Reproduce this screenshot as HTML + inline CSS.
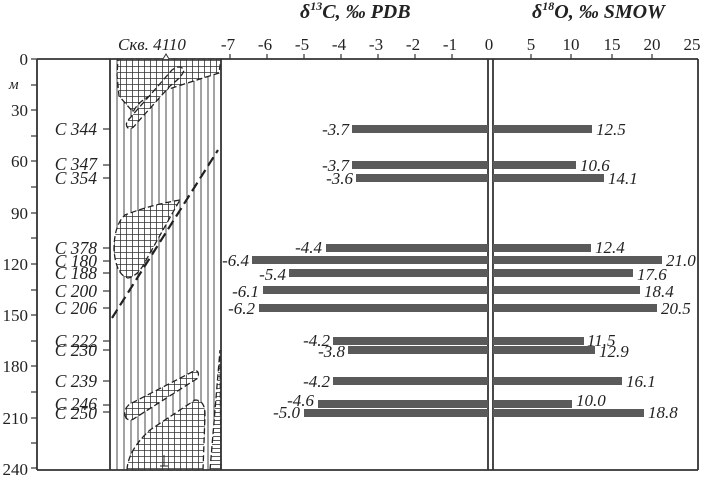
<!DOCTYPE html>
<html><head><meta charset="utf-8"><style>
html,body{margin:0;padding:0;background:#fff;}
svg{display:block;font-family:"Liberation Serif",serif;}
</style></head><body>
<svg width="702" height="485" viewBox="0 0 702 485" xmlns="http://www.w3.org/2000/svg">
<defs>
<pattern id="ch" width="6" height="6" patternUnits="userSpaceOnUse">
<rect width="6" height="6" fill="#fff"/>
<path d="M0 0.5H6M0.5 0V6" stroke="#333" stroke-width="0.8"/>
</pattern>
<pattern id="hz" width="4" height="4" patternUnits="userSpaceOnUse">
<rect width="4" height="4" fill="#fff"/>
<path d="M0 0.5H4" stroke="#333" stroke-width="0.8"/>
</pattern>
</defs>
<rect width="702" height="485" fill="#fff"/>
<g stroke="#333" stroke-width="0.9">
<line x1="117" y1="59" x2="117" y2="470"/><line x1="124" y1="59" x2="124" y2="470"/>
<line x1="131" y1="59" x2="131" y2="470"/><line x1="138" y1="59" x2="138" y2="470"/>
<line x1="145" y1="59" x2="145" y2="470"/><line x1="152" y1="59" x2="152" y2="470"/>
<line x1="159" y1="59" x2="159" y2="470"/><line x1="166" y1="59" x2="166" y2="470"/>
<line x1="173" y1="59" x2="173" y2="470"/><line x1="180" y1="59" x2="180" y2="470"/>
<line x1="187" y1="59" x2="187" y2="470"/><line x1="194" y1="59" x2="194" y2="470"/>
<line x1="201" y1="59" x2="201" y2="470"/><line x1="208" y1="59" x2="208" y2="470"/>
<line x1="214" y1="59" x2="214" y2="470"/>
</g>
<g stroke="#222" stroke-width="1.3" stroke-dasharray="6,3">
<path d="M118 59 L221 59 L219 73 Q190 82 160 92 Q140 98 133 112 L126 104 L119 96 L117 75 Z" fill="url(#ch)"/>
<path d="M128 128 Q124 124 130 118 L172 70 Q180 64 184 70 Q183 76 170 86 L136 124 Q132 130 128 128 Z" fill="url(#ch)"/>
<path d="M180 200 Q150 205 125 215 Q114 225 114 250 Q116 275 128 278 Q138 276 145 262 L177 205 Z" fill="url(#ch)"/>
<path d="M126 418 Q122 410 130 404 L192 372 Q200 368 198 378 L135 418 Q130 422 126 418 Z" fill="url(#ch)"/>
<path d="M127 470 Q128 450 150 430 L195 400 Q205 400 205 415 L203 470 Z" fill="url(#ch)"/>
<path d="M210 470 L220 350 L221 470 Z" fill="url(#hz)"/>
<line x1="112" y1="318" x2="218" y2="150" stroke-width="2.2" stroke-dasharray="10,5"/>
</g>
<line x1="164" y1="455" x2="164" y2="466" stroke="#222"/><line x1="160" y1="466" x2="168" y2="466" stroke="#222"/>
<g stroke="#333" stroke-width="1.8" fill="none">
<line x1="37" y1="59" x2="698" y2="59"/>
<line x1="37" y1="470" x2="698" y2="470"/>
<line x1="37" y1="59" x2="37" y2="470"/>
<line x1="698" y1="59" x2="698" y2="470"/>
<line x1="110" y1="59" x2="110" y2="470"/>
<line x1="221" y1="59" x2="221" y2="470"/>
<line x1="488" y1="59" x2="488" y2="470"/>
<line x1="493" y1="59" x2="493" y2="470"/>
</g>
<path d="M163 59 l3 -5 l3 5" fill="#fff" stroke="#333"/>
<g stroke="#333" stroke-width="1.2">
<line x1="31" y1="59" x2="37" y2="59"/><line x1="31" y1="85" x2="37" y2="85"/>
<line x1="31" y1="110" x2="37" y2="110"/><line x1="31" y1="136" x2="37" y2="136"/>
<line x1="31" y1="161" x2="37" y2="161"/><line x1="31" y1="187" x2="37" y2="187"/>
<line x1="31" y1="213" x2="37" y2="213"/><line x1="31" y1="238" x2="37" y2="238"/>
<line x1="31" y1="264" x2="37" y2="264"/><line x1="31" y1="290" x2="37" y2="290"/>
<line x1="31" y1="315" x2="37" y2="315"/><line x1="31" y1="341" x2="37" y2="341"/>
<line x1="31" y1="366" x2="37" y2="366"/><line x1="31" y1="392" x2="37" y2="392"/>
<line x1="31" y1="418" x2="37" y2="418"/><line x1="31" y1="443" x2="37" y2="443"/>
<line x1="31" y1="468" x2="37" y2="468"/>
</g>
<g font-size="17" fill="#222" text-anchor="end">
<text x="28" y="65">0</text><text x="28" y="116">30</text><text x="28" y="167">60</text>
<text x="28" y="219">90</text><text x="28" y="270">120</text><text x="28" y="321">150</text>
<text x="28" y="372">180</text><text x="28" y="424">210</text><text x="28" y="475">240</text>
</g>
<text x="9" y="89" font-size="15" font-style="italic" fill="#222">м</text>
<g stroke="#333" stroke-width="1.2">
<line x1="103" y1="129" x2="110" y2="129"/><line x1="103" y1="165" x2="110" y2="165"/>
<line x1="103" y1="178" x2="110" y2="178"/><line x1="103" y1="248" x2="110" y2="248"/>
<line x1="103" y1="261" x2="110" y2="261"/><line x1="103" y1="273" x2="110" y2="273"/>
<line x1="103" y1="291" x2="110" y2="291"/><line x1="103" y1="308" x2="110" y2="308"/>
<line x1="103" y1="341" x2="110" y2="341"/><line x1="103" y1="350" x2="110" y2="350"/>
<line x1="103" y1="381" x2="110" y2="381"/><line x1="103" y1="405" x2="110" y2="405"/>
<line x1="103" y1="412" x2="110" y2="412"/>
</g>
<g font-size="17.5" font-style="italic" fill="#222" text-anchor="end">
<text x="97" y="135">C 344</text><text x="97" y="170">C 347</text><text x="97" y="184">C 354</text>
<text x="97" y="254">C 378</text><text x="97" y="267">C 180</text><text x="97" y="279">C 188</text>
<text x="97" y="297">C 200</text><text x="97" y="314">C 206</text>
<text x="97" y="347">C 222</text><text x="97" y="356">C 230</text>
<text x="97" y="387">C 239</text><text x="97" y="410">C 246</text><text x="97" y="419">C 250</text>
</g>
<text x="118" y="50" font-size="17" font-style="italic" fill="#222">Скв. 4110</text>
<g stroke="#333" stroke-width="1.2">
<line x1="230" y1="54" x2="230" y2="59"/><line x1="267" y1="54" x2="267" y2="59"/>
<line x1="304" y1="54" x2="304" y2="59"/><line x1="341" y1="54" x2="341" y2="59"/>
<line x1="378" y1="54" x2="378" y2="59"/><line x1="415" y1="54" x2="415" y2="59"/>
<line x1="452" y1="54" x2="452" y2="59"/>
<line x1="531" y1="54" x2="531" y2="59"/><line x1="571" y1="54" x2="571" y2="59"/>
<line x1="612" y1="54" x2="612" y2="59"/><line x1="652" y1="54" x2="652" y2="59"/>
</g>
<g font-size="17" fill="#222" text-anchor="middle">
<text x="228" y="50">-7</text><text x="265" y="50">-6</text><text x="302" y="50">-5</text>
<text x="339" y="50">-4</text><text x="376" y="50">-3</text><text x="413" y="50">-2</text>
<text x="450" y="50">-1</text><text x="489" y="50">0</text>
<text x="531" y="50">5</text><text x="571" y="50">10</text><text x="612" y="50">15</text>
<text x="652" y="50">20</text><text x="692" y="50">25</text>
</g>
<text x="300" y="18" font-size="20" font-weight="bold" font-style="italic" fill="#222">δ<tspan font-size="12" dy="-8">13</tspan><tspan dy="8">C, ‰ PDB</tspan></text>
<text x="532" y="18" font-size="20" font-weight="bold" font-style="italic" fill="#222">δ<tspan font-size="12" dy="-8">18</tspan><tspan dy="8">O, ‰ SMOW</tspan></text>
<g fill="#5a5a5a">
<rect x="352" y="125" width="136" height="8"/><rect x="493" y="125" width="99" height="8"/>
<rect x="352" y="161" width="136" height="8"/><rect x="493" y="161" width="83" height="8"/>
<rect x="356" y="174" width="132" height="8"/><rect x="493" y="174" width="111" height="8"/>
<rect x="326" y="244" width="162" height="8"/><rect x="493" y="244" width="98" height="8"/>
<rect x="252" y="256" width="236" height="8"/><rect x="493" y="256" width="169" height="8"/>
<rect x="289" y="269" width="199" height="8"/><rect x="493" y="269" width="140" height="8"/>
<rect x="263" y="286" width="225" height="8"/><rect x="493" y="286" width="147" height="8"/>
<rect x="259" y="304" width="229" height="8"/><rect x="493" y="304" width="164" height="8"/>
<rect x="333" y="337" width="155" height="8"/><rect x="493" y="337" width="91" height="8"/>
<rect x="348" y="346" width="140" height="8"/><rect x="493" y="346" width="102" height="8"/>
<rect x="333" y="377" width="155" height="8"/><rect x="493" y="377" width="129" height="8"/>
<rect x="318" y="400" width="170" height="8"/><rect x="493" y="400" width="79" height="8"/>
<rect x="304" y="409" width="184" height="8"/><rect x="493" y="409" width="151" height="8"/>
</g>
<g font-size="17" font-style="italic" fill="#222" text-anchor="end">
<text x="349" y="135">-3.7</text><text x="349" y="171">-3.7</text><text x="353" y="184">-3.6</text>
<text x="322" y="253">-4.4</text><text x="249" y="266">-6.4</text><text x="286" y="280">-5.4</text>
<text x="259" y="297">-6.1</text><text x="255" y="314">-6.2</text>
<text x="330" y="346">-4.2</text><text x="345" y="357">-3.8</text>
<text x="330" y="387">-4.2</text><text x="314" y="406">-4.6</text><text x="300" y="418">-5.0</text>
</g>
<g font-size="17" font-style="italic" fill="#222">
<text x="596" y="135">12.5</text><text x="580" y="171">10.6</text><text x="608" y="184">14.1</text>
<text x="595" y="253">12.4</text><text x="666" y="266">21.0</text><text x="637" y="280">17.6</text>
<text x="644" y="297">18.4</text><text x="661" y="314">20.5</text>
<text x="587" y="346">11.5</text><text x="599" y="357">12.9</text>
<text x="626" y="387">16.1</text><text x="576" y="406">10.0</text><text x="648" y="418">18.8</text>
</g>
</svg>
</body></html>
